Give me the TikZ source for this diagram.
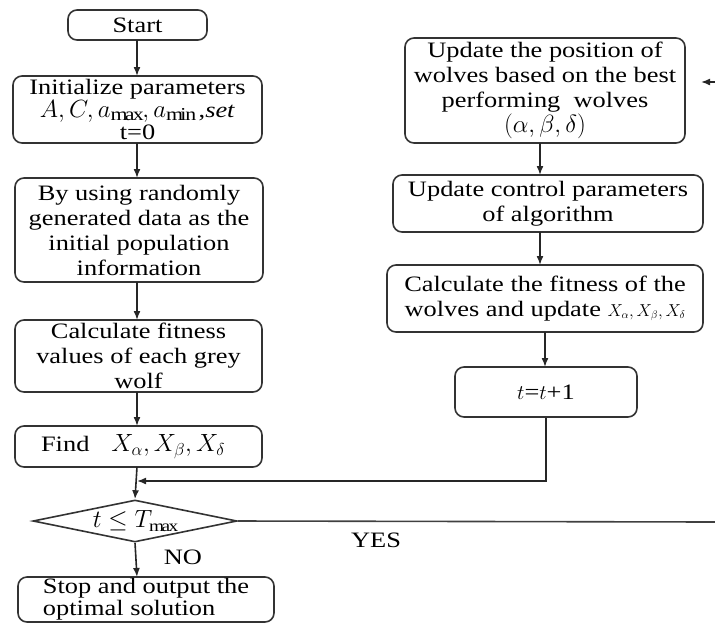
\documentclass[tikz,border=0pt]{standalone}
\usepackage{fontspec}
\setmainfont{Liberation Serif}[FakeStretch=1.2]
\usetikzlibrary{shapes.geometric,arrows.meta}
\begin{document}
\begin{tikzpicture}[x=1pt,y=-1pt,
  box/.style={draw=black!80,line width=1.6pt,rounded corners=9pt,align=center,inner sep=1pt,
    font=\fontsize{22}{25}\selectfont},
  dec/.style={draw=black!80,line width=1.6pt,diamond,aspect=4.9,inner sep=0pt,font=\fontsize{23}{25}\selectfont},
  arr/.style={line width=1.6pt,draw=black!85,-{Latex[length=9pt,width=7pt]}},
  ln/.style={line width=1.6pt,draw=black!75},
  lab/.style={font=\fontsize{22}{24}\selectfont}]
\useasboundingbox (0,0) rectangle (715,625);
% left column
\node[box,minimum width=139pt,minimum height=30pt] (start) at (137.5,25) {Start};
\node[box,minimum width=249pt,minimum height=67pt,font=\fontsize{22}{22.5}\selectfont] (init) at (137.5,109.5)
  {Initialize parameters\\ {\fontsize{26}{22.5}\selectfont$A,C,a_{\max},a_{\min}$}\,,\textit{set}\\ t=0};
\node[box,minimum width=248pt,minimum height=104pt] (rand) at (139,230)
  {By using randomly\\ generated data as the\\ initial population\\ information};
\node[box,minimum width=247pt,minimum height=72pt] (calc) at (138.5,356)
  {Calculate fitness\\ values of each grey\\ wolf};
\node[box,minimum width=247pt,minimum height=41pt] (find) at (138.5,446.5)
  {Find\quad {\fontsize{25}{25}\selectfont$X_\alpha,X_\beta,X_\delta$}\hspace{0.5em}};
\node[dec,minimum width=204pt,minimum height=42pt] (dia) at (135,521) {$t\le T_{\max}$};
\node[box,minimum width=256pt,minimum height=45pt,align=left,font=\fontsize{22}{22}\selectfont] (stop) at (146,599.5)
  {Stop and output the\hspace{1.2em}\\ optimal solution};
% right column
\node[box,minimum width=280pt,minimum height=105pt] (upd) at (545,90.5)
  {Update the position of\\ wolves based on the best\\ performing\ \ wolves\\ {\fontsize{26}{25}\selectfont$(\alpha,\beta,\delta)$}};
\node[box,minimum width=310pt,minimum height=57pt] (ctrl) at (548,203.5)
  {Update control parameters\\ of algorithm};
\node[box,minimum width=316pt,minimum height=67pt] (fitw) at (545,298.5)
  {Calculate the fitness of the\\ wolves and update {\fontsize{16}{15}\selectfont$X_\alpha,X_\beta,X_\delta$}};
\node[box,minimum width=182pt,minimum height=50pt] (tinc) at (546,392) {$t$=$t$+1};
% coordinates for free ends
\coordinate (join) at (137,481);
\coordinate (yesend) at (715,522);
\coordinate (topin) at (715,82);
\coordinate (topend) at (701,82);
% connectors
\draw[arr] (137,40) -- (137,76);
\draw[arr] (137,143) -- (137,178);
\draw[arr] (137,282) -- (137,320);
\draw[arr] (137,392) -- (137,426);
\draw[arr] (137,467) -- (dia.north);
\draw[arr] (dia.south) -- (137,577);
\draw[arr] (540,143) -- (540,175);
\draw[arr] (540,232) -- (540,265);
\draw[arr] (545,332) -- (545,367);
\draw[arr] (tinc.south) |- (join);
\draw[ln] (dia.east) -- (yesend);
\draw[arr] (topin) -- (topend);
% labels
\node[lab] (no) at (183,557) {NO};
\node[lab] (yes) at (376,540) {YES};
\end{tikzpicture}
\end{document}
